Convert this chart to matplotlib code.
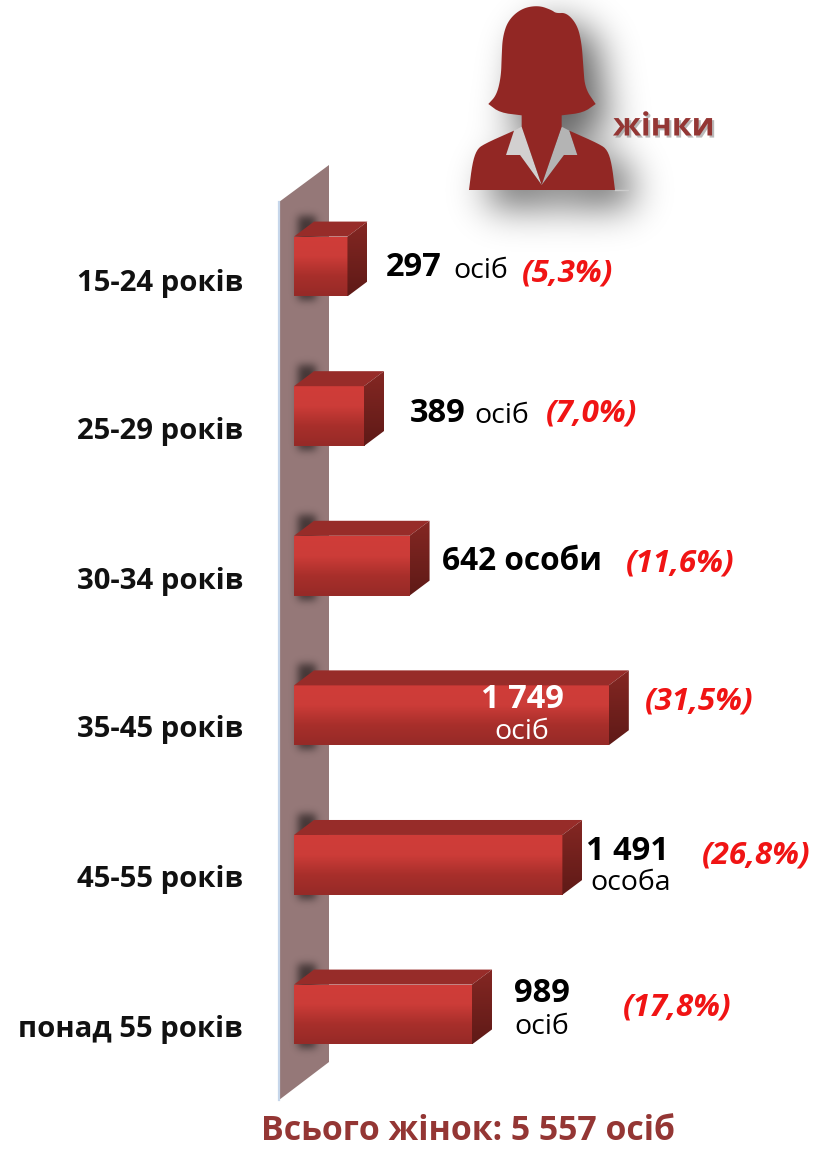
import numpy as np
import matplotlib
matplotlib.use('Agg')
from matplotlib import pyplot as plt
from matplotlib.colors import LinearSegmentedColormap
from matplotlib.patches import Polygon
from matplotlib.path import Path
import matplotlib.patheffects as pe

ages = ['15-24 років', '25-29 років', '30-34 років', '35-45 років', '45-55 років', 'понад 55 років']
counts = [297, 389, 642, 1749, 1491, 989]
shares = ['(5,3%)', '(7,0%)', '(11,6%)', '(31,5%)', '(26,8%)', '(17,8%)']
total_text = 'Всього жінок: 5 557 осіб'

W, H = 819, 1149
PX_PER_VALUE = 0.18    # bar length scale
PX_PER_ROW = 149.6
FIRST_ROW = 266.5
BASE_X = 294
DEPTH_X, DEPTH_Y = 20, 15
TEXT_SHIFT = 3         # va='center' sits a bit high with this font

plt.rcParams['font.family'] = ['Open Sans', 'DejaVu Sans']
DARK = '#943634'


def blur(a, sigma):
    r = int(sigma * 3)
    kernel = np.exp(-0.5 * (np.arange(-r, r + 1) / sigma) ** 2)
    kernel /= kernel.sum()
    a = np.apply_along_axis(lambda v: np.convolve(v, kernel, mode='same'), 0, a)
    a = np.apply_along_axis(lambda v: np.convolve(v, kernel, mode='same'), 1, a)
    return a


def poly_mask(points):
    xx, yy = np.meshgrid(np.arange(W) + 0.5, np.arange(H) + 0.5)
    inside = Path(points).contains_points(np.c_[xx.ravel(), yy.ravel()])
    return inside.reshape(H, W).astype(float)


def zoom_pts(points):
    return [(440 + x / 3, y / 3) for x, y in points]


def smooth(points, passes=3):  # corner cutting, keeps both end points
    pts = list(points)
    for _ in range(passes):
        new = [pts[0]]
        for a, b in zip(pts[:-1], pts[1:]):
            new.append((0.75 * a[0] + 0.25 * b[0], 0.75 * a[1] + 0.25 * b[1]))
            new.append((0.25 * a[0] + 0.75 * b[0], 0.25 * a[1] + 0.75 * b[1]))
        new.append(pts[-1])
        pts = new
    return pts


fig = plt.figure(figsize=(W / 100, H / 100), dpi=100)

# background layer in pixels: wall and figure
bg = fig.add_axes([0, 0, 1, 1], zorder=0)
bg.set_xlim(0, W)
bg.set_ylim(H, 0)
bg.axis('off')

wall_pts = [(279, 202), (329, 165), (329, 1062), (279, 1100)]
bg.add_patch(Polygon(wall_pts, closed=True, facecolor='#957878', edgecolor='none'))
bg.plot([279, 279], [202, 1100], color='#c6d6ea', lw=1.6)

shoulder_l = smooth([(87, 570), (97, 490), (110, 450), (130, 433), (222, 392)], 2)
shoulder_r = smooth([(388, 392), (480, 433), (502, 450), (515, 490), (525, 570)], 2)
body = zoom_pts(shoulder_l + [(198, 465), (240, 465), (305, 555), (372, 465), (412, 465)] + shoulder_r)
hair_top = smooth([(145, 312), (170, 285), (183, 230), (185, 170), (188, 110), (205, 60), (245, 25),
                   (295, 16), (335, 30), (348, 40), (380, 38), (412, 75), (425, 130), (430, 200),
                   (435, 265), (467, 312)])
hair_low = smooth([(467, 312), (430, 338), (365, 346)], 2)
hair_neck = [(365, 380), (305, 555), (245, 380), (245, 346)]
hair_end = smooth([(245, 346), (180, 338), (145, 312)], 2)
hair = zoom_pts(hair_top + hair_low + hair_neck + hair_end)
collar_l = zoom_pts([(222, 392), (198, 465), (240, 465), (305, 555), (245, 380)])
collar_r = zoom_pts([(388, 392), (412, 465), (372, 465), (305, 555), (365, 380)])

shadow = np.maximum(poly_mask(body), poly_mask(hair))
shadow = np.roll(np.roll(shadow, 16, axis=0), 18, axis=1)
shadow = blur(shadow, 19) * 0.62
rgba = np.zeros((H, W, 4))
rgba[..., 3] = shadow
bg.imshow(rgba, extent=(0, W, H, 0), aspect='auto', zorder=1)

bg.add_patch(Polygon(collar_l, closed=True, facecolor='#d2d0d0', edgecolor='none', zorder=2))
bg.add_patch(Polygon(collar_r, closed=True, facecolor='#b4b4b4', edgecolor='none', zorder=2))
bg.add_patch(Polygon(body, closed=True, facecolor='#922724', edgecolor='none', zorder=3))
bg.add_patch(Polygon(hair, closed=True, facecolor='#922724', edgecolor='none', zorder=3))
bg.plot([615, 628], [190, 190], color='#cccccc', lw=1, zorder=2)

# bars, on value / row scales
ax = fig.add_axes([0, 0, 1, 1], zorder=1)
ax.patch.set_alpha(0)
ax.axis('off')
xlim = (-BASE_X / PX_PER_VALUE, (W - BASE_X) / PX_PER_VALUE)
ylim = ((H - FIRST_ROW) / PX_PER_ROW, -FIRST_ROW / PX_PER_ROW)
dx = DEPTH_X / PX_PER_VALUE
dy = DEPTH_Y / PX_PER_ROW

front_cmap = LinearSegmentedColormap.from_list('front', ['#d03d39', '#cc3c38', '#a82f2b', '#962a27'])
side_cmap = LinearSegmentedColormap.from_list('side', ['#842723', '#5f1a17'])
grad = np.linspace(0, 1, 64).reshape(-1, 1)

rows = np.arange(len(counts))
bar_h = 0.4
bars = ax.barh(rows, counts, height=bar_h, color='#b53230', zorder=3)

for row, count, bar in zip(rows, counts, bars):
    top = row - bar_h / 2
    bottom = row + bar_h / 2
    # soft shadow on the wall behind the bar
    px_top = FIRST_ROW + PX_PER_ROW * top
    px_bottom = FIRST_ROW + PX_PER_ROW * bottom
    sh = poly_mask([(298, px_top - 21), (316, px_top - 21), (316, px_bottom + 4), (298, px_bottom + 4)])
    sh = blur(sh, 4) * poly_mask(wall_pts) * 0.55
    rgba = np.zeros((H, W, 4))
    rgba[..., 3] = sh
    bg.imshow(rgba, extent=(0, W, H, 0), aspect='auto', zorder=1)

    im = ax.imshow(grad, cmap=front_cmap, extent=(0, count, bottom, top), aspect='auto', zorder=4)
    im.set_clip_path(bar)
    ax.add_patch(Polygon([(0, top), (dx, top - dy), (count + dx, top - dy), (count, top)],
                         closed=True, facecolor='#972c29', edgecolor='none', zorder=4))
    side = Polygon([(count, top), (count + dx, top - dy), (count + dx, bottom - dy), (count, bottom)],
                   closed=True, facecolor='none', edgecolor='none', zorder=4)
    ax.add_patch(side)
    im2 = ax.imshow(grad, cmap=side_cmap, extent=(count, count + dx, bottom, top - dy),
                    aspect='auto', zorder=4)
    im2.set_clip_path(side)

ax.set_xlim(xlim)
ax.set_ylim(ylim)
bg.set_xlim(0, W)
bg.set_ylim(H, 0)


def put(x, y, s, size, weight='normal', color='black', ha='left', style='normal', **kw):
    return ax.text(x, y + TEXT_SHIFT, s, transform=bg.transData, fontsize=size, fontweight=weight,
                   color=color, ha=ha, va='center', fontstyle=style, zorder=6, **kw)


LABEL_SIZE = 21.1
for age, y in zip(ages, [280, 429, 578, 727, 876, 1026]):
    put(243, y, age, LABEL_SIZE, weight='bold', ha='right', color='#111111')

NUM = 23.5
UNIT = 20.5
put(386, 265, str(counts[0]), NUM, weight='bold')
put(453, 268, 'осіб', UNIT)
put(410, 411, str(counts[1]), NUM, weight='bold')
put(474, 413, 'осіб', UNIT)
put(442, 558, str(counts[2]) + ' особи', 22.8, weight='bold')
put(522, 696, '1 749', NUM, weight='bold', color='white', ha='center')
put(522, 729, 'осіб', UNIT, color='white', ha='center')
put(627, 848, '1 491', NUM, weight='bold', ha='center')
put(631, 880, 'особа', UNIT, ha='center')
put(542, 991, str(counts[5]), NUM, weight='bold', ha='center')
put(542, 1024, 'осіб', UNIT, ha='center')

share_x = [522, 546, 626, 645, 702, 623]
share_y = [270, 411, 560, 698, 852, 1005]
for s, x, y in zip(shares, share_x, share_y):
    put(x, y, s, 22.6, weight='bold', color='#f01414', style='italic')

t = put(613, 124, 'жінки', 23, weight='bold', color=DARK)
t.set_path_effects([pe.withSimplePatchShadow(offset=(1.5, -1.5), shadow_rgbFace='#777777', alpha=0.5)])
put(468, 1128, total_text, 24.4, weight='bold', color=DARK, ha='center')

fig.savefig('out.png', dpi=100)
